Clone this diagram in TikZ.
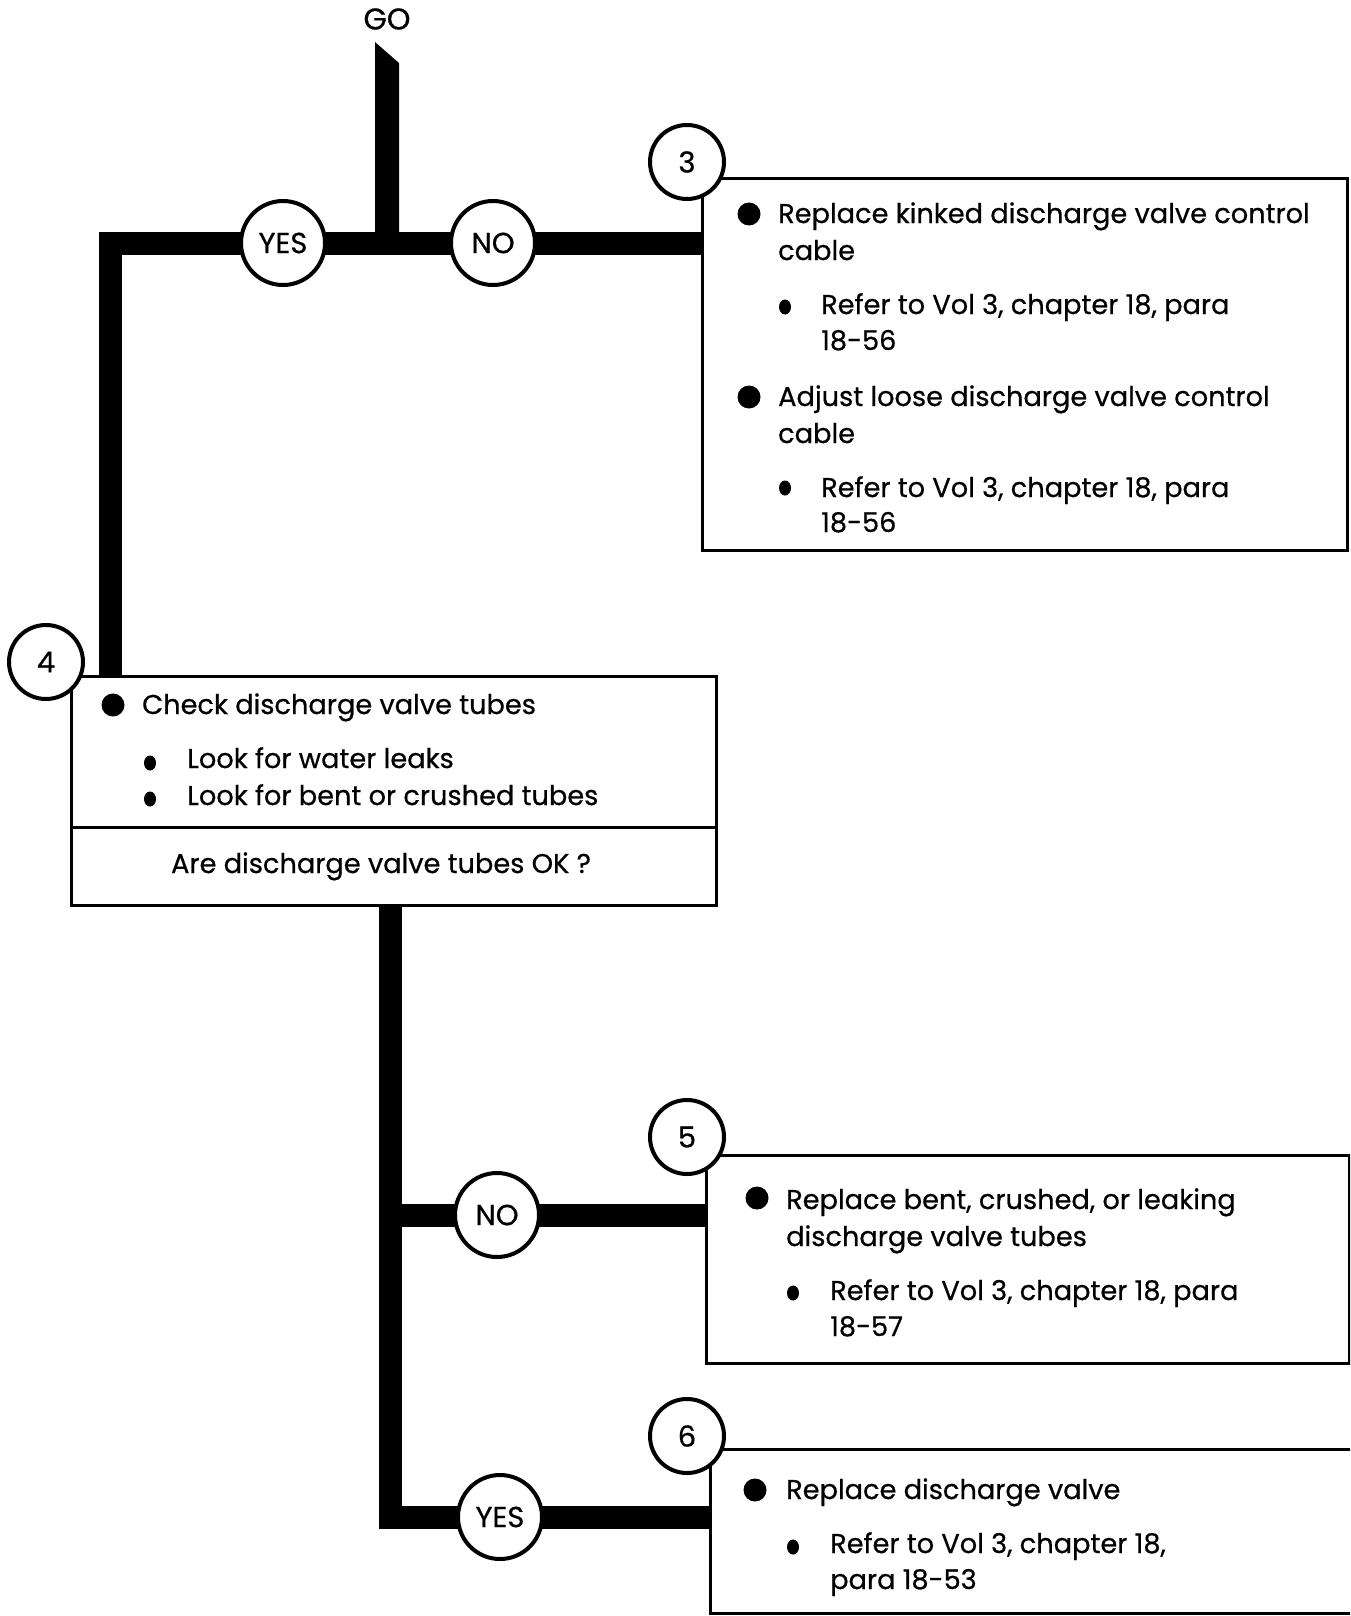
\documentclass[tikz,border=0pt]{standalone}
\usepackage{fontspec}
\setmainfont{Poppins}[FakeBold=0.6]
\usetikzlibrary{positioning}

\tikzset{
  bar/.style={line width=23pt,line join=miter},
  box/.style={draw,line width=3pt,fill=white,inner sep=0pt,anchor=north west},
  ring/.style={circle,draw,line width=4pt,fill=white,inner sep=0pt,font=\fontsize{29}{32}\selectfont},
  txt/.style={anchor=base west,inner sep=0pt,font=\fontsize{27.2}{37}\selectfont},
}

\begin{document}
\begin{tikzpicture}[x=1pt,y=-1pt]
\clip (0,0) rectangle (1350,1616);
% boxes
\node[box,minimum width=645pt,minimum height=372pt] (box3) at (701,177) {};
\node[box,minimum width=645pt,minimum height=229pt] (box4) at (70,675) {};
\draw[line width=3pt] (box4.west |- 0,827) -- (box4.east |- 0,827);
\node[box,minimum width=643pt,minimum height=208pt] (box5) at (705,1154) {};
\node[box,minimum width=700pt,minimum height=164pt] (box6) at (709,1448) {};
% bars
\node[inner sep=0pt,font=\fontsize{30}{32}\selectfont] (go) at (387,19) {GO};
\fill (375,42) -- (399,63) -- (399,243) -- (375,243) -- cycle;
\coordinate (tl) at (110.5,243);
\coordinate (tb) at (390.5,1517);
\coordinate (nb) at (390.5,1215);
\draw[bar] (box4.north -| tl) -- (tl) -- (box3.west |- tl);
\draw[bar] (box4.south -| tb) -- (tb) -- (box6.west |- tb);
\draw[bar] (nb) -- (box5.west |- nb);
% circles
\node[ring,minimum size=84pt] (yes1) at (283,243) {YES};
\node[ring,minimum size=84pt] (no1) at (493,243) {NO};
\node[ring,minimum size=84pt] (no2) at (497,1215) {NO};
\node[ring,minimum size=84pt] (yes2) at (500,1517) {YES};
\node[ring,minimum size=74pt] (s3) at (687,162) {3};
\node[ring,minimum size=74pt] (s4) at (46,662) {4};
\node[ring,minimum size=74pt] (s5) at (687,1137) {5};
\node[ring,minimum size=74pt] (s6) at (687,1436) {6};
% step 3
\fill (749,214) circle (11.5);
\node[txt] (t3a) at (778,223) {Replace kinked discharge valve control};
\node[txt] (t3b) at (778,260) {cable};
\fill (785,307) ellipse (6 and 7.5);
\node[txt] (t3c) at (821,314) {Refer to Vol 3, chapter 18, para};
\node[txt] (t3d) at (821,350) {18-56};
\fill (749,397) circle (11.5);
\node[txt] (t3e) at (778,406) {Adjust loose discharge valve control};
\node[txt] (t3f) at (778,443) {cable};
\fill (785,488) ellipse (6 and 7.5);
\node[txt] (t3g) at (821,497) {Refer to Vol 3, chapter 18, para};
\node[txt] (t3h) at (821,532) {18-56};
% step 4
\fill (113,705) circle (11.5);
\node[txt] (t4a) at (142,714) {Check discharge valve tubes};
\fill (150,763) ellipse (6 and 7.5);
\node[txt] (t4b) at (187,768) {Look for water leaks};
\fill (150,799) ellipse (6 and 7.5);
\node[txt] (t4c) at (187,805) {Look for bent or crushed tubes};
\node[txt,anchor=base] (t4q) at (381,873) {Are discharge valve tubes OK ?};
% step 5
\fill (757,1198) circle (11.5);
\node[txt] (t5a) at (786,1209) {Replace bent, crushed, or leaking};
\node[txt] (t5b) at (786,1246) {discharge valve tubes};
\fill (793,1293) ellipse (6 and 7.5);
\node[txt] (t5c) at (830,1300) {Refer to Vol 3, chapter 18, para};
\node[txt] (t5d) at (830,1336) {18-57};
% step 6
\fill (755,1490) circle (11.5);
\node[txt] (t6a) at (786,1499) {Replace discharge valve};
\fill (793,1547) ellipse (6 and 7.5);
\node[txt] (t6b) at (830,1553) {Refer to Vol 3, chapter 18,};
\node[txt] (t6c) at (830,1589) {para 18-53};
\end{tikzpicture}
\end{document}
